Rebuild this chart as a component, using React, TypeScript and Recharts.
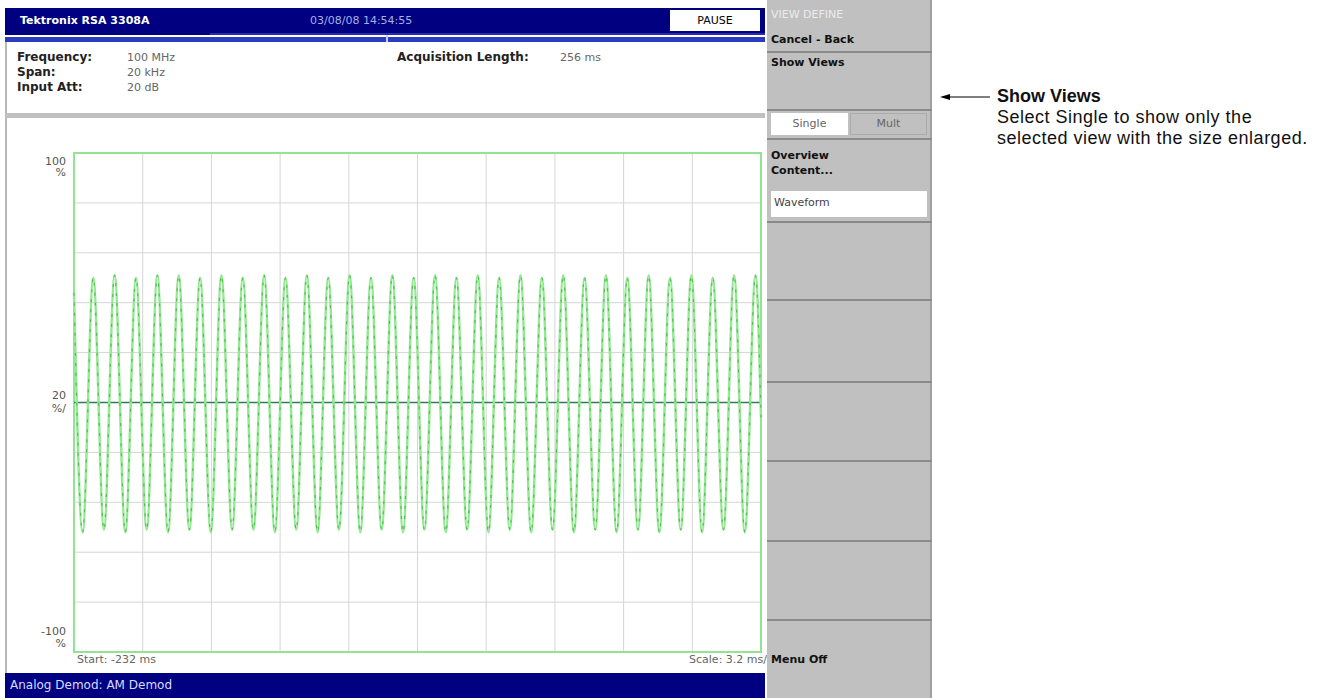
import { CartesianGrid, Line, LineChart, ReferenceArea, ReferenceLine, XAxis, YAxis } from 'recharts'

// time axis, ms
const xTicks = [-232, -228.8, -225.6, -222.4, -219.2, -216, -212.8, -209.6, -206.4, -203.2, -200]
const yTicks = [-100, -80, -60, -40, -20, 0, 20, 40, 60, 80, 100]

// AM demod trace: successive troughs / peaks (%), first one is a trough
const sampleStart = -231.6
const sampleStep = 0.4975
const extremes = [
  -52, 50, -51, 51, -52, 50, -51, 51,
  -52, 51, -51, 50, -52, 51, -51, 50,
  -51, 51, -52, 50, -51, 51, -52, 50,
  -51, 51, -52, 50, -51, 51, -52, 50,
  -51, 51, -52, 50, -51, 51, -52, 50,
  -51, 51, -52, 50, -51, 51, -52, 50,
  -51, 51, -52, 50, -51, 51, -52, 50,
  -51, 51, -52, 50, -51, 51, -52, 51,
]
const startValue = 44
const endValue = -6

const yLabels: Record<number, [string, string, number, number]> = {
  100: ['100', '%', 12, 23],
  0: ['20', '%/', -4, 9],
  [-100]: ['-100', '%', -17, -5],
}

const calloutLines = ['Select Single to show only the', 'selected view with the size enlarged.']

const data = [
  { t: -232, v: startValue },
  ...extremes.map((v, i) => ({ t: sampleStart + i * sampleStep, v })),
  { t: -200, v: endValue },
]

const screenFont = '"DejaVu Sans", Verdana, sans-serif'
const NAVY = '#000080'
const PANEL = '#c0c0c0'

function YTick(props: any) {
  const { x, y, payload } = props
  const lab = yLabels[payload.value]
  if (!lab) return <g />
  return (
    <g>
      <text x={x} y={y + lab[2]} textAnchor="end" fontSize={11} fontFamily={screenFont} fill="#555">
        {lab[0]}
      </text>
      <text x={x} y={y + lab[3]} textAnchor="end" fontSize={11} fontFamily={screenFont} fill="#555">
        {lab[1]}
      </text>
    </g>
  )
}

function NoTick() {
  return <g />
}

const abs = (left: number, top: number, extra: React.CSSProperties = {}): React.CSSProperties => ({
  position: 'absolute',
  left,
  top,
  ...extra,
})

const sep = (top: number) => (
  <div style={abs(0, top, { width: 165, height: 2, background: '#8a8a8a' })} />
)

const calloutStyle: React.CSSProperties = {
  fontFamily: '"Liberation Sans", Arial, sans-serif',
  fontSize: 18,
  lineHeight: '21px',
  height: 21,
  letterSpacing: 0.5,
  color: '#111',
  whiteSpace: 'nowrap',
}

export default function App() {
  return (
    <div style={{ position: 'relative', width: 1338, height: 698, background: '#fff', overflow: 'hidden', fontFamily: screenFont }}>
      <style>{'body{margin:0}'}</style>

      {/* title bar */}
      <div style={abs(5, 8, { width: 760, height: 27, background: NAVY })} />
      <div style={abs(210, 33, { width: 555, height: 2, background: '#2a2ab0' })} />
      <div style={abs(5, 37, { width: 760, height: 5, background: '#2a3cc0' })} />
      <div style={abs(386, 35, { width: 2, height: 7, background: '#c8d0ff' })} />
      <div style={abs(20, 14, { color: '#fff', fontSize: 11, fontWeight: 'bold' })}>Tektronix RSA 3308A</div>
      <div style={abs(310, 14, { color: '#a8b0e8', fontSize: 11 })}>03/08/08 14:54:55</div>
      <div style={abs(670, 10, { width: 90, height: 21, background: '#fff', color: '#000', fontSize: 11, textAlign: 'center', lineHeight: '21px' })}>PAUSE</div>

      {/* settings */}
      <div style={abs(5, 42, { width: 2, height: 631, background: '#b8b8b8' })} />
      <div style={abs(17, 50, { fontSize: 12, fontWeight: 'bold', color: '#222', lineHeight: '15px' })}>
        Frequency:<br />Span:<br />Input Att:
      </div>
      <div style={abs(127, 50, { fontSize: 11, color: '#666', lineHeight: '15px' })}>
        100 MHz<br />20 kHz<br />20 dB
      </div>
      <div style={abs(397, 50, { fontSize: 12, fontWeight: 'bold', color: '#222', lineHeight: '15px' })}>Acquisition Length:</div>
      <div style={abs(560, 50, { fontSize: 11, color: '#666', lineHeight: '15px' })}>256 ms</div>
      <div style={abs(5, 113, { width: 760, height: 5, background: PANEL })} />

      {/* waveform */}
      <div style={abs(5, 118)}>
        <LineChart width={760} height={555} data={data} margin={{ top: 35, right: 4, bottom: 20, left: 9 }}>
          <CartesianGrid stroke="#d6d6d6" strokeWidth={1} />
          <XAxis dataKey="t" type="number" domain={[-232, -200]} ticks={xTicks} interval={0} tick={<NoTick />} axisLine={false} tickLine={false} height={1} />
          <YAxis type="number" domain={[-100, 100]} ticks={yTicks} interval={0} tick={<YTick />} axisLine={false} tickLine={false} width={60} />
          <ReferenceLine y={0} stroke="#2f7d57" strokeWidth={1.5} />
          <Line type="monotone" dataKey="v" stroke="#95e695" strokeWidth={2.5} dot={false} isAnimationActive={false} />
          <Line type="monotone" dataKey="v" stroke="#4cc44c" strokeWidth={1.2} strokeDasharray="3 7" dot={false} isAnimationActive={false} />
          <ReferenceArea x1={-232} x2={-200} y1={-100} y2={100} fill="none" stroke="#92e492" strokeWidth={2} />
        </LineChart>
      </div>
      <div style={abs(77, 653, { fontSize: 11, color: '#666' })}>Start: -232 ms</div>
      <div style={abs(640, 653, { width: 127, fontSize: 11, color: '#666', textAlign: 'right' })}>Scale: 3.2 ms/</div>
      <div style={abs(5, 673, { width: 760, height: 25, background: NAVY, color: '#d8dcff', fontSize: 12, lineHeight: '25px', paddingLeft: 5, boxSizing: 'border-box' })}>
        Analog Demod: AM Demod
      </div>

      {/* side menu */}
      <div style={abs(767, 0, { width: 165, height: 698, background: PANEL, borderRight: '2px solid #a0a0a0', boxSizing: 'border-box', fontSize: 11 })}>
        <div style={abs(4, 8, { color: '#ececec' })}>VIEW DEFINE</div>
        <div style={abs(4, 33, { color: '#111', fontWeight: 'bold' })}>Cancel - Back</div>
        {sep(51)}
        <div style={abs(4, 56, { color: '#111', fontWeight: 'bold' })}>Show Views</div>
        {sep(109)}
        <div style={abs(4, 113, { width: 77, height: 22, background: '#fff', color: '#666', textAlign: 'center', lineHeight: '22px' })}>Single</div>
        <div style={abs(83, 113, { width: 77, height: 22, border: '1px solid #aaa', boxSizing: 'border-box', color: '#666', textAlign: 'center', lineHeight: '20px' })}>Mult</div>
        {sep(138)}
        <div style={abs(4, 148, { color: '#111', fontWeight: 'bold', lineHeight: '15px' })}>Overview<br />Content...</div>
        <div style={abs(4, 191, { width: 156, height: 26, background: '#fff', color: '#444', lineHeight: '24px', paddingLeft: 3, boxSizing: 'border-box' })}>Waveform</div>
        {sep(221)}
        {sep(299)}
        {sep(381)}
        {sep(460)}
        {sep(540)}
        {sep(619)}
        <div style={abs(4, 653, { color: '#111', fontWeight: 'bold' })}>Menu Off</div>
      </div>

      {/* callout */}
      <svg style={abs(938, 90)} width={54} height={14}>
        <line x1={8} y1={7} x2={52} y2={7} stroke="#000" strokeWidth={1.2} />
        <polygon points="2,7 12,4 12,10" fill="#000" />
      </svg>
      <div style={abs(997, 86, { ...calloutStyle, fontWeight: 'bold', letterSpacing: 0 })}>Show Views</div>
      {calloutLines.map((s, i) => (
        <div key={s} style={abs(997, 107 + i * 21, calloutStyle)}>{s}</div>
      ))}
    </div>
  )
}
